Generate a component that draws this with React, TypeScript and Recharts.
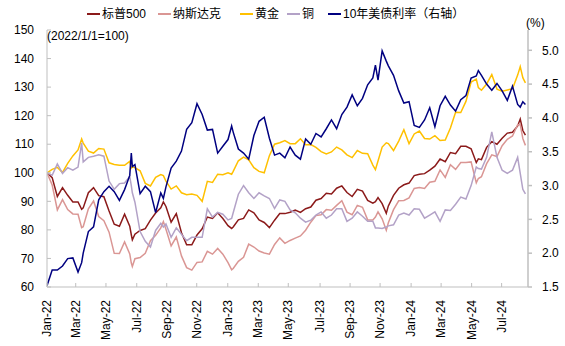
import { LineChart, Line, XAxis, YAxis } from 'recharts';

// sample dates (trading-day spacing is uneven in the original, so x is a position index built from the date)
const dates = [
  '2022-01-01', '2022-01-11', '2022-01-21', '2022-02-01', '2022-02-11', '2022-02-21', '2022-03-01', '2022-03-08',
  '2022-03-11', '2022-03-21', '2022-04-01', '2022-04-11', '2022-04-21', '2022-05-01', '2022-05-11', '2022-05-21',
  '2022-06-01', '2022-06-11', '2022-06-14', '2022-06-16', '2022-06-21', '2022-07-01', '2022-07-11', '2022-07-21',
  '2022-08-01', '2022-08-11', '2022-08-16', '2022-08-21', '2022-09-01', '2022-09-11', '2022-09-21', '2022-10-01',
  '2022-10-11', '2022-10-21', '2022-11-01', '2022-11-11', '2022-11-21', '2022-12-01', '2022-12-11', '2022-12-21',
  '2022-12-28',
  '2023-01-01', '2023-01-11', '2023-01-21', '2023-02-01', '2023-02-11', '2023-02-21', '2023-03-01', '2023-03-11',
  '2023-03-21', '2023-04-01', '2023-04-11', '2023-04-21', '2023-05-01', '2023-05-11', '2023-05-21', '2023-06-01',
  '2023-06-11', '2023-06-21', '2023-07-01', '2023-07-11', '2023-07-21', '2023-08-01', '2023-08-11', '2023-08-21',
  '2023-09-01', '2023-09-11', '2023-09-21', '2023-10-01', '2023-10-06', '2023-10-11', '2023-10-19', '2023-10-27',
  '2023-11-01', '2023-11-11', '2023-11-21', '2023-12-01', '2023-12-11', '2023-12-21',
  '2024-01-01', '2024-01-11', '2024-01-21', '2024-02-01', '2024-02-11', '2024-02-21', '2024-03-01', '2024-03-11',
  '2024-03-21', '2024-04-01', '2024-04-11', '2024-04-21', '2024-04-25', '2024-05-01', '2024-05-11', '2024-05-21',
  '2024-06-01', '2024-06-11', '2024-06-21', '2024-07-01', '2024-07-11', '2024-07-16', '2024-07-21', '2024-07-26',
];

const spx = [
  100, 98.3, 91.7, 94.8, 92.1, 89.8, 89.8, 87.2, 87.7, 93.0, 94.8, 92.0, 91.6, 86.6, 82.0, 81.3,
  85.5, 81.3, 78.3, 76.5, 78.5, 79.8, 80.4, 83.4, 85.9, 87.7, 89.8, 88.2, 82.7, 85.7, 79.0, 74.8,
  74.8, 78.2, 80.4, 84.5, 84.0, 86.0, 84.0, 81.5, 80.5,
  81.0, 83.5, 84.0, 87.0, 86.0, 83.5, 82.6, 80.8, 83.4, 85.7, 85.7, 86.2, 86.9, 86.1, 87.4, 88.0,
  90.4, 91.0, 92.8, 92.6, 94.6, 95.4, 93.1, 91.7, 94.2, 93.6, 90.3, 89.4, 89.9, 91.3, 89.2, 85.8,
  88.4, 92.1, 94.6, 95.8, 96.4, 99.0,
  99.5, 99.7, 100.9, 102.3, 104.8, 103.9, 107.1, 106.7, 109.3, 109.3, 108.4, 103.6, 104.9, 104.6, 108.9, 110.9,
  110.0, 112.1, 113.9, 114.2, 116.4, 118.8, 114.8, 113.2,
];

const nasdaq = [
  100, 95.7, 87.0, 90.6, 87.1, 85.6, 85.5, 80.8, 81.1, 87.4, 90.1, 84.7, 83.2, 79.2, 71.8, 71.7,
  75.8, 71.6, 68.4, 67.2, 69.9, 70.3, 71.8, 76.2, 78.1, 80.7, 82.9, 80.2, 74.4, 77.5, 70.9, 66.8,
  65.9, 68.6, 68.8, 72.5, 71.5, 73.5, 71.5, 68.5, 66.0,
  66.5, 69.0, 70.4, 75.0, 74.0, 72.6, 71.9, 71.5, 74.9, 77.2, 75.3, 76.3, 77.1, 77.9, 79.9, 82.7,
  85.0, 85.3, 87.1, 86.9, 88.6, 90.2, 86.2, 85.3, 88.6, 87.9, 83.5, 83.5, 84.5, 86.3, 83.9, 79.9,
  82.5, 87.1, 90.2, 90.3, 91.2, 94.5,
  94.8, 94.5, 96.7, 97.0, 101.0, 98.4, 102.8, 101.2, 103.6, 103.6, 103.8, 96.5, 98.0, 98.6, 103.2, 106.3,
  105.7, 109.5, 111.7, 112.9, 116.8, 116.9, 112.0, 109.6,
];

const gold = [
  100, 101.2, 101.9, 100.1, 103.3, 105.9, 108.0, 111.8, 110.4, 107.6, 106.9, 108.5, 108.3, 103.5, 102.9, 102.6,
  102.6, 104.0, 101.6, 102.0, 101.8, 100.7, 96.3, 95.4, 98.4, 99.4, 99.0, 97.1, 94.3, 95.4, 93.0, 92.3,
  92.6, 92.1, 90.0, 97.0, 96.6, 99.5, 99.3, 100.0, 99.5,
  100.5, 104.2, 105.5, 104.5, 101.8, 100.5, 100.0, 106.0, 110.0, 110.5, 111.3, 110.2, 110.2, 111.9, 109.8, 109.9,
  108.9, 107.4, 106.6, 107.3, 109.0, 108.0, 106.3, 105.3, 107.8, 106.8, 106.7, 102.7, 101.1, 104.1, 109.0, 110.5,
  110.2, 107.8, 111.1, 115.1, 110.2, 113.6,
  114.6, 112.0, 111.8, 113.0, 111.3, 111.5, 115.7, 121.2, 121.1, 125.0, 131.8, 132.8, 129.8, 128.9, 131.1, 134.4,
  129.3, 128.6, 129.0, 129.4, 134.2, 137.2, 133.3, 131.5,
];

const copper = [
  100, 99.1, 103.1, 99.8, 101.8, 100.9, 102.0, 110.5, 103.8, 105.4, 105.8, 106.3, 105.8, 97.1, 94.2, 96.2,
  96.4, 98.7, 95.5, 93.0, 89.7, 79.4, 76.0, 74.0, 79.8, 82.3, 81.0, 82.1, 77.4, 80.7, 78.5, 76.2,
  77.4, 77.4, 77.4, 87.4, 84.5, 86.1, 85.5, 83.5, 84.0,
  86.0, 92.5, 95.5, 93.0, 91.0, 93.0, 91.9, 91.0, 87.5, 90.5, 90.0, 87.0, 86.0, 84.1, 82.7, 83.4,
  85.2, 86.3, 84.1, 85.2, 87.4, 87.4, 83.0, 84.1, 86.3, 84.8, 83.0, 83.0, 80.7, 80.7, 80.5, 81.0,
  81.4, 81.8, 85.2, 85.9, 85.2, 87.4,
  87.2, 84.1, 85.2, 86.3, 83.0, 87.0, 86.8, 89.0, 91.5, 90.8, 95.5, 102.0, 101.5, 101.3, 105.4, 114.3,
  105.4, 100.9, 99.8, 100.9, 105.4, 99.8, 94.2, 92.6,
];

const ust10y = [
  1.52, 1.75, 1.75, 1.81, 1.92, 1.93, 1.72, 1.86, 2.0, 2.32, 2.39, 2.79, 2.91, 2.99, 2.91, 2.78,
  2.94, 3.15, 3.48, 3.28, 3.31, 2.88, 2.99, 2.91, 2.6, 2.89, 2.81, 2.98, 3.26, 3.36, 3.51, 3.83,
  3.93, 4.21, 4.05, 3.82, 3.83, 3.48, 3.58, 3.68, 3.88,
  3.79, 3.54, 3.48, 3.39, 3.74, 3.95, 4.01, 3.7, 3.45, 3.48, 3.41, 3.57, 3.45, 3.39, 3.69, 3.61,
  3.77, 3.72, 3.84, 3.97, 3.84, 4.05, 4.16, 4.34, 4.18, 4.29, 4.49, 4.59, 4.78, 4.56, 4.99, 4.84,
  4.77, 4.63, 4.4, 4.22, 4.24, 3.89,
  3.86, 3.97, 4.15, 3.87, 4.18, 4.32, 4.19, 4.1, 4.27, 4.33, 4.59, 4.62, 4.7, 4.63, 4.5, 4.41,
  4.51, 4.4, 4.26, 4.47, 4.2, 4.16, 4.24, 4.2,
];

const tickLabels = [
  'Jan-22', 'Mar-22', 'May-22', 'Jul-22', 'Sep-22', 'Nov-22', 'Jan-23', 'Mar-23',
  'May-23', 'Jul-23', 'Sep-23', 'Nov-23', 'Jan-24', 'Mar-24', 'May-24', 'Jul-24',
];
const tickPos = [0, 5.55, 11.4, 17.35, 23.15, 28.95, 34.95, 40.85, 46.65, 52.8, 58.6, 64.4, 70.4, 76.2, 82.1, 87.9];
const leftTicks = [60, 70, 80, 90, 100, 110, 120, 130, 140, 150];
const rightTicks = [1.5, 2.0, 2.5, 3.0, 3.5, 4.0, 4.5, 5.0];

const series = [
  { key: 'spx', name: '标普500', color: '#8B1A1A', axis: 'l' },
  { key: 'nasdaq', name: '纳斯达克', color: '#DA9694', axis: 'l' },
  { key: 'gold', name: '黄金', color: '#FFC000', axis: 'l' },
  { key: 'copper', name: '铜', color: '#B3A2C7', axis: 'l' },
  { key: 'ust10y', name: '10年美债利率（右轴）', color: '#000080', axis: 'r' },
];

// ten-day slots: each month is 3 units
const toPos = (d: string) => {
  const [y, m, day] = d.split('-').map(Number);
  return (y - 2022) * 36 + (m - 1) * 3 + (day - 1) / 10;
};

const data = dates.map((d, i) => ({
  date: d,
  x: toPos(d),
  spx: spx[i],
  nasdaq: nasdaq[i],
  gold: gold[i],
  copper: copper[i],
  ust10y: ust10y[i],
}));

const font = "'Liberation Sans', Arial, 'Noto Sans CJK SC', sans-serif";
const axisColor = '#BFBFBF';

const XTick = ({ x, y, payload }: any) => {
  const label = tickLabels[tickPos.indexOf(payload.value)];
  return (
    <text
      x={x}
      y={y}
      transform={`rotate(-90 ${x} ${y})`}
      textAnchor="end"
      dy="0.35em"
      fontSize={12}
      fill="#000"
      fontFamily={font}
    >
      {label}
    </text>
  );
};

const legendLeft = [87, 158, 240, 287, 328];

const App = () => {
  return (
    <div style={{ position: 'relative', width: 565, height: 346, fontFamily: font, background: '#fff' }}>
      <style>{'body{margin:0}'}</style>
      <LineChart width={565} height={346} data={data} margin={{ top: 30, right: 0, bottom: 0, left: 0 }}>
        <XAxis
          type="number"
          dataKey="x"
          domain={[0, 93]}
          ticks={tickPos}
          interval={0}
          tick={<XTick />}
          tickSize={-4}
          tickMargin={17}
          height={59}
          stroke={axisColor}
          allowDataOverflow
        />
        <YAxis
          yAxisId="l"
          domain={[60, 150]}
          ticks={leftTicks}
          interval={0}
          width={47}
          tickSize={-4}
          tickMargin={17}
          stroke={axisColor}
          tick={{ fill: '#000', fontSize: 12, fontFamily: font }}
          allowDataOverflow
        />
        <YAxis
          yAxisId="r"
          orientation="right"
          domain={[1.5, 5.3]}
          ticks={rightTicks}
          interval={0}
          width={37}
          tickSize={4}
          tickMargin={10}
          stroke={axisColor}
          strokeWidth={1.5}
          tickFormatter={(v: number) => v.toFixed(1)}
          tick={{ fill: '#000', fontSize: 12, fontFamily: font, textAnchor: 'start' }}
          allowDataOverflow
        />
        {series.map((s) => (
          <Line
            key={s.key}
            yAxisId={s.axis}
            type="linear"
            dataKey={s.key}
            name={s.name}
            stroke={s.color}
            strokeWidth={1.5}
            dot={false}
            isAnimationActive={false}
          />
        ))}
      </LineChart>

      {series.map((s, i) => (
        <div
          key={s.key}
          style={{
            position: 'absolute',
            left: legendLeft[i],
            top: 6,
            display: 'flex',
            alignItems: 'center',
            fontSize: 12,
            lineHeight: '16px',
            color: '#000',
            whiteSpace: 'nowrap',
          }}
        >
          <span style={{ display: 'inline-block', width: 13, height: 2, background: s.color, marginRight: 2 }} />
          {s.name}
        </div>
      ))}

      <div style={{ position: 'absolute', left: 47, top: 29, fontSize: 12, lineHeight: '15px', color: '#000' }}>
        (2022/1/1=100)
      </div>
      <div style={{ position: 'absolute', left: 526, top: 16, fontSize: 12, lineHeight: '15px', color: '#000' }}>
        (%)
      </div>
    </div>
  );
};

export default App;
